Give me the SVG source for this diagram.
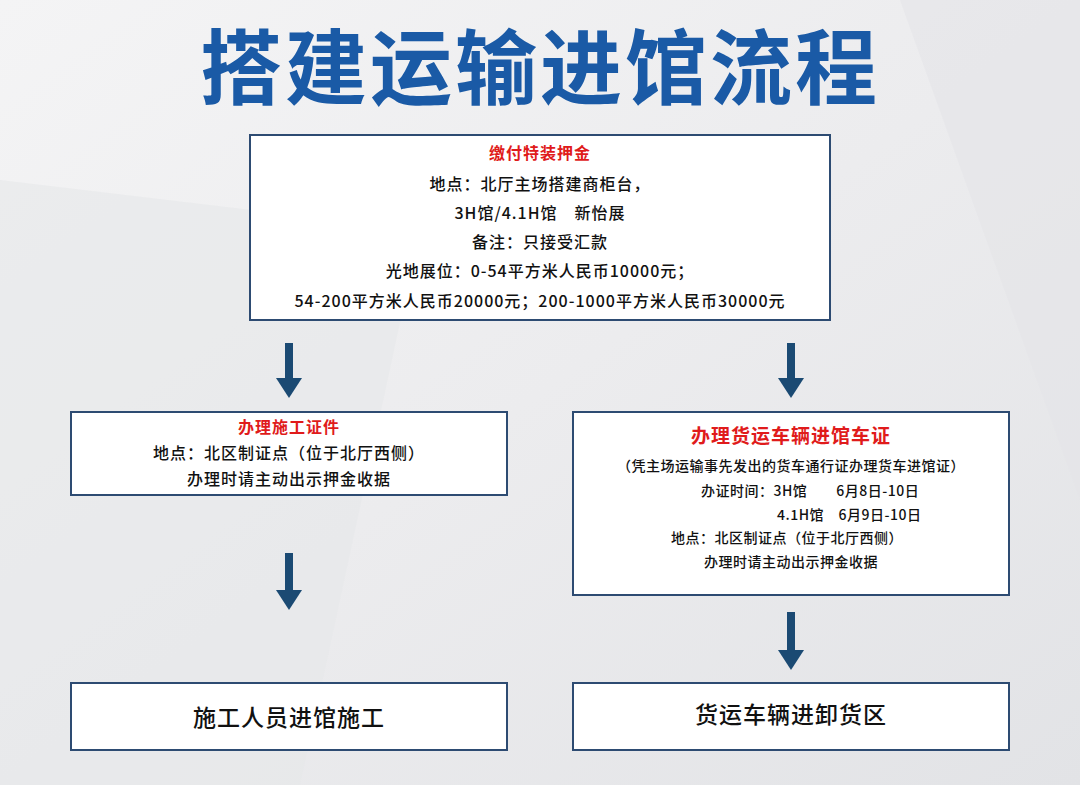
<svg xmlns="http://www.w3.org/2000/svg" width="1080" height="785" viewBox="0 0 1080 785">
<defs>
<linearGradient id="bg" x1="0" y1="0" x2="1" y2="1"><stop offset="0" stop-color="#f4f4f5"/><stop offset="0.5" stop-color="#ececee"/><stop offset="1" stop-color="#e2e3e6"/></linearGradient>
<marker id="ah" viewBox="0 0 20 26" refX="1" refY="13" markerWidth="20" markerHeight="26" markerUnits="userSpaceOnUse" orient="auto"><path d="M0,0 L20,13 L0,26 Z" fill="#1b4a73"/></marker>
</defs>
<style>
.box{fill:#fff;stroke:#2d4b72;stroke-width:2}
text{font-family:"Noto Sans CJK SC","Noto Sans",sans-serif;text-anchor:middle;fill:#111;font-weight:500}
.t{font-size:16px;letter-spacing:1px}
.r{fill:#e01b1b;font-weight:bold}
.s{font-size:14px;letter-spacing:0.5px}
.big{font-size:23px;letter-spacing:1px}
.ar{stroke:#1b4a73;stroke-width:8;fill:none}
</style>
<rect width="1080" height="785" fill="url(#bg)"/>
<polygon points="0,180 420,230 300,785 0,785" fill="#e6e7ea" opacity="0.6"/>
<polygon points="900,0 1080,0 1080,500" fill="#e4e5e8" opacity="0.6"/>
<text x="540" y="98" font-size="82" letter-spacing="3" style="fill:#1a5aa6;font-weight:bold">搭建运输进馆流程</text>
<g id="connectors">
<line class="ar" x1="289" y1="343" x2="289" y2="379" marker-end="url(#ah)"/>
<line class="ar" x1="791" y1="343" x2="791" y2="379" marker-end="url(#ah)"/>
<line class="ar" x1="289" y1="553" x2="289" y2="591" marker-end="url(#ah)"/>
<line class="ar" x1="791" y1="612" x2="791" y2="651" marker-end="url(#ah)"/>
</g>
<g id="deposit">
<rect class="box" x="250" y="135" width="580" height="185"/>
<text class="t r" x="540" y="159">缴付特装押金</text>
<text class="t" x="540" y="190">地点：北厅主场搭建商柜台，</text>
<text class="t" x="540" y="219">3H馆/4.1H馆　新怡展</text>
<text class="t" x="540" y="248">备注：只接受汇款</text>
<text class="t" x="540" y="277">光地展位：0-54平方米人民币10000元；</text>
<text class="t" x="540" y="307">54-200平方米人民币20000元；200-1000平方米人民币30000元</text>
</g>
<g id="permit">
<rect class="box" x="71" y="412" width="436" height="83"/>
<text class="t r" x="289" y="433">办理施工证件</text>
<text class="t" x="289" y="459">地点：北区制证点（位于北厅西侧）</text>
<text class="t" x="289" y="485">办理时请主动出示押金收据</text>
</g>
<g id="truck">
<rect class="box" x="573" y="412" width="436" height="183"/>
<text class="r" x="791" y="443" font-size="19" letter-spacing="1">办理货运车辆进馆车证</text>
<text class="s" x="791" y="471">（凭主场运输事先发出的货车通行证办理货车进馆证）</text>
<text class="s" x="701" y="496" style="text-anchor:start">办证时间：3H馆　　6月8日-10日</text>
<text class="s" x="777" y="520" style="text-anchor:start">4.1H馆　6月9日-10日</text>
<text class="s" x="787" y="543">地点：北区制证点（位于北厅西侧）</text>
<text class="s" x="791" y="567">办理时请主动出示押金收据</text>
</g>
<g id="workers">
<rect class="box" x="71" y="683" width="436" height="67"/>
<text class="big" x="289" y="726">施工人员进馆施工</text>
</g>
<g id="unload">
<rect class="box" x="573" y="683" width="436" height="67"/>
<text class="big" x="791" y="723">货运车辆进卸货区</text>
</g>
</svg>
